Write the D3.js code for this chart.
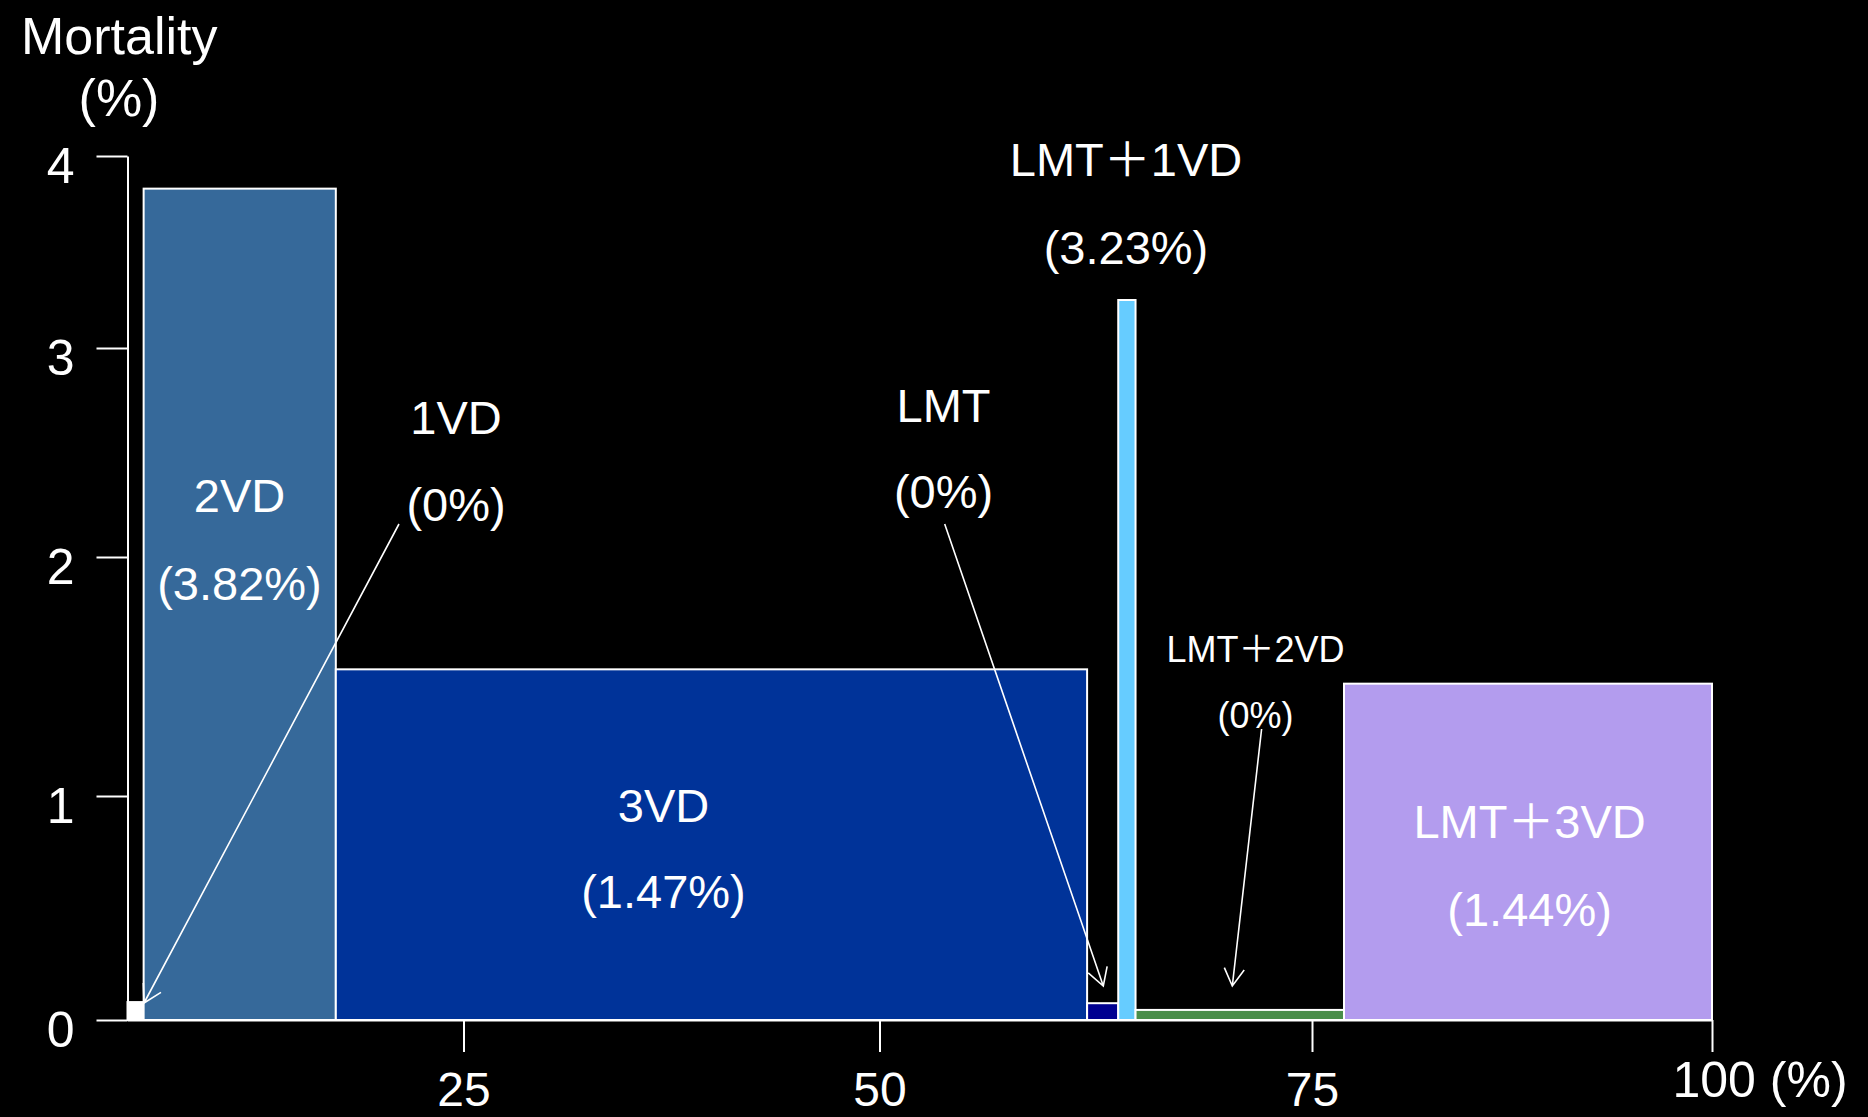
<!DOCTYPE html>
<html><head><meta charset="utf-8">
<script src="https://cdn.jsdelivr.net/npm/d3@7"></script>
<style>html,body{margin:0;padding:0;background:#000;} svg{display:block;}</style>
</head><body>
<svg id="chart" width="1868" height="1117"></svg>
<script>
// ---- data ----
const categories = ["1VD","2VD","3VD","LMT","LMT＋1VD","LMT＋2VD","LMT＋3VD"];
const shares = [1.2, 14.3, 46.5, 1.8, 1.0, 12.2, 23.0];          // % of patients (bar widths)
const mortality = [0, 3.82, 1.47, 0, 3.23, 0, 1.44];             // labelled mortality (%)
const drawnHeights = [0.08, 3.83, 1.53, 0.075, 3.25, 0.045, 1.47]; // bar heights as drawn
const yTicks = [0, 1, 2, 3, 4];
const xTicks = [25, 50, 75, 100];
const xTickLabels = ["25", "50", "75", "100 (%)"];

// ---- styles ----
const colors = ["#ffffff","#36699a","#003399","#000090","#66ccff","#4a8e4a","#b39cee"];
const FONT = "'Liberation Sans', Arial, 'Noto Sans CJK JP', sans-serif";

const svg = d3.select("#chart");
svg.append("rect").attr("width",1868).attr("height",1117).attr("fill","#000");

// hand-drawn axis: piecewise linear scales
const x = d3.scaleLinear().domain([0,25,50,75,100]).range([127.5,463.5,879.5,1312,1712]);
const y = d3.scaleLinear().domain([0,1,2,3,4]).range([1020,796,557,348,156]);

const starts = [0, ...d3.cumsum(shares)].slice(0, shares.length);
const bars = categories.map((c,i) => ({c, s: starts[i], w: shares[i], h: drawnHeights[i], m: mortality[i], col: colors[i]}));

svg.append("g").selectAll("rect").data(bars).join("rect")
  .attr("x", d => x(d.s))
  .attr("y", d => y(d.h))
  .attr("width", d => x(d.s + d.w) - x(d.s))
  .attr("height", d => y(0) - y(d.h))
  .attr("fill", d => d.col)
  .attr("stroke", "#fff")
  .attr("stroke-width", 2);

// axes
const yAxis = svg.append("g").attr("transform", `translate(${x(0)},0)`)
  .call(d3.axisLeft(y).tickValues(yTicks).tickFormat(d3.format("d")).tickSize(31).tickSizeOuter(0).tickPadding(22));
const xAxis = svg.append("g").attr("transform", `translate(0,${y(0)})`)
  .call(d3.axisBottom(x).tickValues(xTicks).tickSize(32).tickSizeOuter(0).tickFormat((d,i)=>xTickLabels[i]));

[yAxis, xAxis].forEach(g => {
  g.select(".domain").attr("stroke","#fff").attr("stroke-width",2);
  g.selectAll(".tick line").attr("stroke","#fff").attr("stroke-width",2);
  g.selectAll("text").attr("fill","#fff").attr("font-family",FONT).attr("font-size",50);
});
yAxis.selectAll("text").attr("dy", "0.36em").attr("y", 8);
xAxis.selectAll(".tick text").attr("dy", null).attr("y", 86).attr("font-size", 48)
  .filter(d => d === 100).attr("text-anchor","start").attr("x",-40).attr("y",77).attr("font-size",50);

// axis title
svg.append("text").attr("x",21).attr("y",54).text("Mortality")
  .attr("fill","#fff").attr("font-family",FONT).attr("font-size",52);
svg.append("text").attr("x",119).attr("y",116).attr("text-anchor","middle").text("(%)")
  .attr("fill","#fff").attr("font-family",FONT).attr("font-size",52);

// annotations (label anchor: center x, baselines of two lines, font size)
const annot = [
  {i:0, x:456,   y1:434, y2:521, fs:47},
  {i:1, x:239.5, y1:512, y2:600, fs:47},
  {i:2, x:663.5, y1:822, y2:908, fs:47},
  {i:3, x:943.5, y1:422, y2:508, fs:47},
  {i:4, x:1126,  y1:176, y2:264, fs:47},
  {i:5, x:1255.6,y1:662, y2:728, fs:36},
  {i:6, x:1529.6,y1:838, y2:926, fs:47}
];
const ag = svg.append("g").attr("fill","#fff").attr("font-family",FONT).attr("text-anchor","middle");
annot.forEach(a => {
  ag.append("text").attr("x",a.x).attr("y",a.y1).attr("font-size",a.fs).text(categories[a.i]);
  ag.append("text").attr("x",a.x).attr("y",a.y2).attr("font-size",a.fs).text(`(${mortality[a.i]}%)`);
});

// arrows
const arrows = [
  {from:[399,524],    to:[144,1003]},
  {from:[944.7,524],  to:[1103.3,986]},
  {from:[1261.6,729], to:[1232.3,986]}
];
const arrG = svg.append("g").attr("stroke","#fff").attr("stroke-width",1.6).attr("fill","none");
arrows.forEach(a => {
  const [x0,y0] = a.from, [x1,y1] = a.to;
  const ang = Math.atan2(y1-y0, x1-x0);
  const L = 20, h = Math.PI/6;
  const p1 = [x1 - L*Math.cos(ang-h), y1 - L*Math.sin(ang-h)];
  const p2 = [x1 - L*Math.cos(ang+h), y1 - L*Math.sin(ang+h)];
  const path = d3.path();
  path.moveTo(x0,y0); path.lineTo(x1,y1);
  path.moveTo(p1[0],p1[1]); path.lineTo(x1,y1); path.lineTo(p2[0],p2[1]);
  arrG.append("path").attr("d", path.toString());
});
</script>
</body></html>
